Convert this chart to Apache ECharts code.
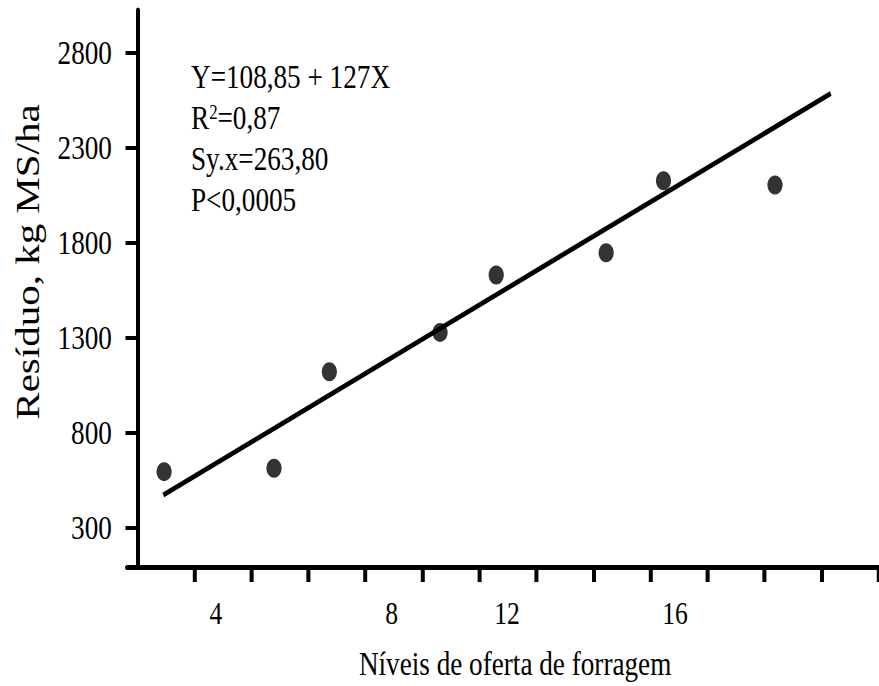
<!DOCTYPE html>
<html>
<head>
<meta charset="utf-8">
<script src="https://cdn.jsdelivr.net/npm/echarts@6/dist/echarts.min.js"></script>
<style>
  html, body { margin: 0; padding: 0; background: #fff; }
  #frame { width: 879px; height: 686px; overflow: hidden; }
  #chart { height: 686px; transform-origin: 0 0; }
</style>
</head>
<body>
<div id="frame"><div id="chart"></div></div>
<script>
// Horizontal squeeze of the whole figure (narrow Times-like lettering, oval dots)
const SQUEEZE_X = 0.8;
const PAGE_W = 879;

// Observations: forage allowance level vs residue (kg MS/ha)
const forageLevel = [2.88, 5.62, 7.0, 9.76, 11.16, 13.9, 15.33, 18.11];
const residue     = [595, 613, 1121, 1328, 1630, 1747, 2126, 2104];

// Fitted regression Y = 108,85 + 127X over the drawn span
const fitIntercept = 108.85;
const fitSlope = 127;
const fitSpan = [2.86, 19.5];

// Axis ticks and labels
const yTickValues = [300, 800, 1300, 1800, 2300, 2800];
const xTickLabels = ['4', '8', '12', '16'];
const xTickLabelAt = [4.17, 8.55, 11.43, 15.62];
const xTickStart = 3.633, xTickStep = 1.4214, xTickCount = 13;

// Statistics block
const statLines = ['Y=108,85 + 127X', 'R{sup|2}=0,87', 'Sy.x=263,80', 'P<0,0005'];

const FONT = 'Liberation Serif, serif';

const chartEl = document.getElementById('chart');
chartEl.style.width = Math.round(PAGE_W / SQUEEZE_X) + 'px';
chartEl.style.transform = 'scaleX(' + SQUEEZE_X + ')';

const xTicks = [];
for (let i = 0; i < xTickCount; i++) xTicks.push(+(xTickStart + i * xTickStep).toFixed(3));

const scatterData = forageLevel.map((x, i) => [x, residue[i]]);
const fitData = fitSpan.map(x => [x, fitIntercept + fitSlope * x]);

const u = px => px / SQUEEZE_X; // screen px -> chart layout units (horizontal)

const chart = echarts.init(chartEl, null, { renderer: 'svg' });
chart.setOption({
  animation: false,
  backgroundColor: '#fff',
  grid: { left: u(127), right: 0, top: 10, bottom: 119, containLabel: false },
  xAxis: {
    type: 'value',
    min: 1.955,
    max: 20.708,
    name: 'Níveis de oferta de forragem',
    nameLocation: 'middle',
    nameGap: 80,
    nameTextStyle: { fontFamily: FONT, fontSize: 34, color: '#000', padding: [0, 0, 0, 30] },
    axisLine: { onZero: false, lineStyle: { color: '#000', width: 5 } },
    axisTick: { show: true, customValues: xTicks, length: 15, lineStyle: { color: '#000', width: 5 } },
    axisLabel: {
      customValues: xTickLabelAt,
      margin: 30,
      fontFamily: FONT, fontSize: 32, color: '#000',
      formatter: v => {
        const k = xTickLabelAt.findIndex(p => Math.abs(p - v) < 1e-6);
        return k >= 0 ? xTickLabels[k] : '';
      }
    },
    splitLine: { show: false }
  },
  yAxis: {
    type: 'value',
    min: 93,
    max: 3025,
    offset: -(u(137.5) - u(127)),
    name: 'Resíduo, kg MS/ha',
    nameLocation: 'middle',
    nameGap: 116,
    nameRotate: 90,
    nameTextStyle: { fontFamily: FONT, fontSize: 41, color: '#000', padding: [0, 0, 0, 53] },
    axisLine: { onZero: false, lineStyle: { color: '#000', width: 5 } },
    axisTick: { show: true, customValues: yTickValues, length: 15, lineStyle: { color: '#000', width: 4 } },
    axisLabel: {
      customValues: yTickValues, margin: 32,
      fontFamily: FONT, fontSize: 34, color: '#000',
      formatter: v => String(v)
    },
    splitLine: { show: false }
  },
  series: [
    {
      type: 'line',
      data: fitData,
      symbol: 'none',
      lineStyle: { color: '#000', width: 5 },
      z: 2
    },
    {
      type: 'scatter',
      data: scatterData,
      symbol: 'circle',
      symbolSize: 19,
      itemStyle: { color: '#000' },
      z: 3
    }
  ],
  graphic: statLines.map((t, i) => ({
    type: 'text',
    left: u(191),
    top: 60 + i * 41,
    style: {
      text: t,
      fontFamily: FONT,
      fontSize: 34,
      fill: '#000',
      rich: { sup: { fontFamily: FONT, fontSize: 21, fill: '#000', verticalAlign: 'top' } }
    }
  }))
});
</script>
</body>
</html>
